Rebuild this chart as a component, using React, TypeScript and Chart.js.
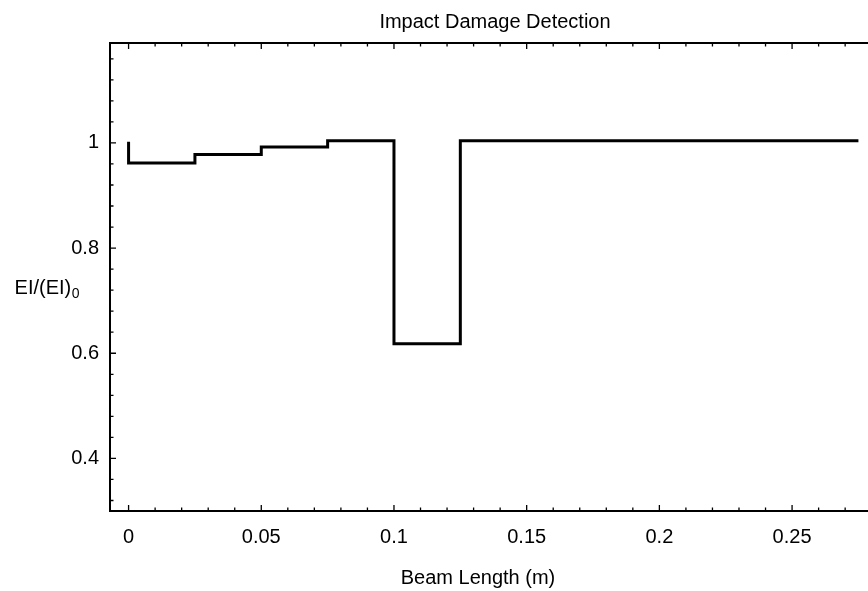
import React, { useEffect, useRef } from "react";
import { Chart, registerables } from "chart.js";

Chart.register(...registerables);

// ---- data ----
const chartTitle = "Impact Damage Detection";
const xAxisTitle = "Beam Length (m)";
const yAxisTitleMain = "EI/(EI)";
const yAxisTitleSub = "0";

const beamX = [0, 0, 0.025, 0.05, 0.075, 0.1, 0.125, 0.275];
const stiffnessRatio = [1.002, 0.962, 0.978, 0.992, 1.004, 0.618, 1.004, 1.004];

const xTicks = [0, 0.05, 0.1, 0.15, 0.2, 0.25];
const xTickLabels = ["0", "0.05", "0.1", "0.15", "0.2", "0.25"];
const yTicks = [0.4, 0.6, 0.8, 1];
const yTickLabels = ["0.4", "0.6", "0.8", "1"];
const xMinorStep = 0.01;
const yMinorStep = 0.04;
const xRange = [-0.007, 0.282];
const yRange = [0.3, 1.19];

const FONT = '"Liberation Sans", Arial, Helvetica, sans-serif';

function minorValues(min: number, max: number, step: number) {
  const out: number[] = [];
  const k0 = Math.ceil(min / step - 1e-9);
  const k1 = Math.floor(max / step + 1e-9);
  for (let k = k0; k <= k1; k++) out.push(Math.round(k * step * 1e6) / 1e6);
  return out;
}

const framePlugin = {
  id: "frameTicks",
  afterDraw(chart: any) {
    const { ctx, chartArea: a, scales } = chart;
    const xs = scales.x;
    const ys = scales.y;
    ctx.save();
    ctx.strokeStyle = "#000";
    ctx.lineWidth = 2;
    ctx.strokeRect(a.left, a.top, a.right - a.left, a.bottom - a.top);
    ctx.lineWidth = 1.3;
    const isMajor = (v: number, arr: number[]) => arr.some((m) => Math.abs(m - v) < 1e-6);
    ctx.beginPath();
    for (const v of minorValues(xRange[0], xRange[1], xMinorStep)) {
      const px = xs.getPixelForValue(v);
      const len = isMajor(v, xTicks) ? 6 : 3.5;
      ctx.moveTo(px, a.bottom);
      ctx.lineTo(px, a.bottom - len);
      ctx.moveTo(px, a.top);
      ctx.lineTo(px, a.top + len);
    }
    for (const v of minorValues(yRange[0], yRange[1], yMinorStep)) {
      const py = ys.getPixelForValue(v);
      const len = isMajor(v, yTicks) ? 6 : 3.5;
      ctx.moveTo(a.left, py);
      ctx.lineTo(a.left + len, py);
      ctx.moveTo(a.right, py);
      ctx.lineTo(a.right - len, py);
    }
    ctx.stroke();

    // texts
    ctx.fillStyle = "#000";
    ctx.font = `20px ${FONT}`;
    ctx.textBaseline = "alphabetic";
    ctx.textAlign = "center";
    ctx.fillText(chartTitle, 495, 28);
    ctx.fillText(xAxisTitle, 478, 584);

    ctx.textAlign = "left";
    const wMain = ctx.measureText(yAxisTitleMain).width;
    ctx.font = `14px ${FONT}`;
    const wSub = ctx.measureText(yAxisTitleSub).width;
    const startX = 79 - wMain - wSub;
    ctx.font = `20px ${FONT}`;
    ctx.fillText(yAxisTitleMain, startX, 294);
    ctx.font = `14px ${FONT}`;
    ctx.fillText(yAxisTitleSub, startX + wMain + 0.5, 298);
    ctx.restore();
  },
};

export default function App() {
  const ref = useRef<HTMLCanvasElement | null>(null);

  useEffect(() => {
    if (!ref.current) return;
    const chart = new Chart(ref.current, {
      type: "line",
      data: {
        datasets: [
          {
            data: beamX.map((x, i) => ({ x, y: stiffnessRatio[i] })),
            stepped: "before",
            borderColor: "#000",
            borderWidth: 3,
            pointRadius: 0,
            fill: false,
            borderJoinStyle: "miter",
          } as any,
        ],
      },
      options: {
        animation: false,
        responsive: false,
        devicePixelRatio: 1,
        layout: { padding: { top: 43, right: 13, left: 0, bottom: 0 } },
        plugins: {
          legend: { display: false },
          title: { display: false },
          tooltip: { enabled: false },
        },
        scales: {
          x: {
            type: "linear",
            min: xRange[0],
            max: xRange[1],
            grid: { display: false, drawTicks: false },
            border: { display: false },
            afterBuildTicks: (s: any) => {
              s.ticks = xTicks.map((v) => ({ value: v }));
            },
            afterFit: (s: any) => {
              s.height = 80;
            },
            ticks: {
              autoSkip: false,
              maxRotation: 0,
              padding: 14,
              color: "#000",
              font: { family: FONT, size: 20 },
              callback: (v: any) => {
                const i = xTicks.findIndex((t) => Math.abs(t - Number(v)) < 1e-6);
                return i >= 0 ? xTickLabels[i] : "";
              },
            },
          },
          y: {
            type: "linear",
            min: yRange[0],
            max: yRange[1],
            grid: { display: false, drawTicks: false },
            border: { display: false },
            afterBuildTicks: (s: any) => {
              s.ticks = yTicks.map((v) => ({ value: v }));
            },
            afterFit: (s: any) => {
              s.width = 110;
            },
            ticks: {
              autoSkip: false,
              padding: 11,
              color: "#000",
              font: { family: FONT, size: 20 },
              callback: (v: any) => {
                const i = yTicks.findIndex((t) => Math.abs(t - Number(v)) < 1e-6);
                return i >= 0 ? yTickLabels[i] : "";
              },
            },
          },
        },
      },
      plugins: [framePlugin],
    });
    return () => chart.destroy();
  }, []);

  return (
    <div
      style={{
        position: "absolute",
        left: 0,
        top: 0,
        width: 868,
        height: 591,
        overflow: "hidden",
        background: "#fff",
      }}
    >
      <canvas ref={ref} width={890} height={591} style={{ display: "block" }} />
    </div>
  );
}
